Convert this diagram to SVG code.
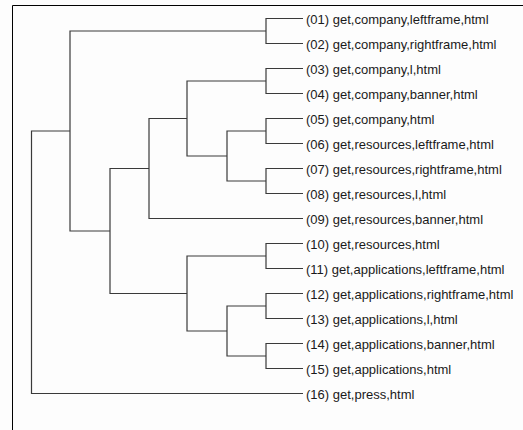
<svg xmlns="http://www.w3.org/2000/svg" width="523" height="430" viewBox="0 0 523 430">
<style>
.frame{stroke:#000;stroke-width:1;fill:none}
.edge{stroke:#3a3a3a;stroke-width:1.2;fill:none}
.lbl{font-family:"Liberation Sans",Arial,sans-serif;font-size:13px;fill:#1a1a1a}
</style>
<rect x="0" y="0" width="523" height="430" fill="#fdfdfd"/>
<g id="frame">
<path class="frame" d="M12.5,430 V5.5 H523"/>
</g>
<g id="connectors">
<!-- leaf pairs -->
<path class="edge" d="M303,18.5 H266 V43.5 H303"/>
<path class="edge" d="M303,68.5 H266 V93.5 H303"/>
<path class="edge" d="M303,118.5 H266 V143.5 H303"/>
<path class="edge" d="M303,168.5 H266 V193.5 H303"/>
<path class="edge" d="M303,243.5 H266 V268.5 H303"/>
<path class="edge" d="M303,293.5 H266 V318.5 H303"/>
<path class="edge" d="M303,343.5 H266 V368.5 H303"/>
<!-- F: (05,06)+(07,08) -->
<path class="edge" d="M266,131 H227 V181 H266"/>
<!-- E: (03,04)+F -->
<path class="edge" d="M266,81 H187 V156 H227"/>
<!-- C: E + 09 -->
<path class="edge" d="M187,118.5 H149 V218.5 H303"/>
<!-- G: (12,13)+(14,15) -->
<path class="edge" d="M266,306 H227 V356 H266"/>
<!-- D: (10,11)+G -->
<path class="edge" d="M266,256 H187 V331 H227"/>
<!-- B: C + D -->
<path class="edge" d="M149,168.5 H110 V293.5 H187"/>
<!-- A: (01,02) + B -->
<path class="edge" d="M266,31 H70 V231 H110"/>
<!-- root: A + 16 -->
<path class="edge" d="M70,131 H31.5 V393.5 H303"/>
</g>
<g id="n01"><text class="lbl" x="306" y="23.5">(01) get,company,leftframe,html</text></g>
<g id="n02"><text class="lbl" x="306" y="48.5">(02) get,company,rightframe,html</text></g>
<g id="n03"><text class="lbl" x="306" y="73.5">(03) get,company,l,html</text></g>
<g id="n04"><text class="lbl" x="306" y="98.5">(04) get,company,banner,html</text></g>
<g id="n05"><text class="lbl" x="306" y="123.5">(05) get,company,html</text></g>
<g id="n06"><text class="lbl" x="306" y="148.5">(06) get,resources,leftframe,html</text></g>
<g id="n07"><text class="lbl" x="306" y="173.5">(07) get,resources,rightframe,html</text></g>
<g id="n08"><text class="lbl" x="306" y="198.5">(08) get,resources,l,html</text></g>
<g id="n09"><text class="lbl" x="306" y="223.5">(09) get,resources,banner,html</text></g>
<g id="n10"><text class="lbl" x="306" y="248.5">(10) get,resources,html</text></g>
<g id="n11"><text class="lbl" x="306" y="273.5">(11) get,applications,leftframe,html</text></g>
<g id="n12"><text class="lbl" x="306" y="298.5">(12) get,applications,rightframe,html</text></g>
<g id="n13"><text class="lbl" x="306" y="323.5">(13) get,applications,l,html</text></g>
<g id="n14"><text class="lbl" x="306" y="348.5">(14) get,applications,banner,html</text></g>
<g id="n15"><text class="lbl" x="306" y="373.5">(15) get,applications,html</text></g>
<g id="n16"><text class="lbl" x="306" y="398.5">(16) get,press,html</text></g>
</svg>
